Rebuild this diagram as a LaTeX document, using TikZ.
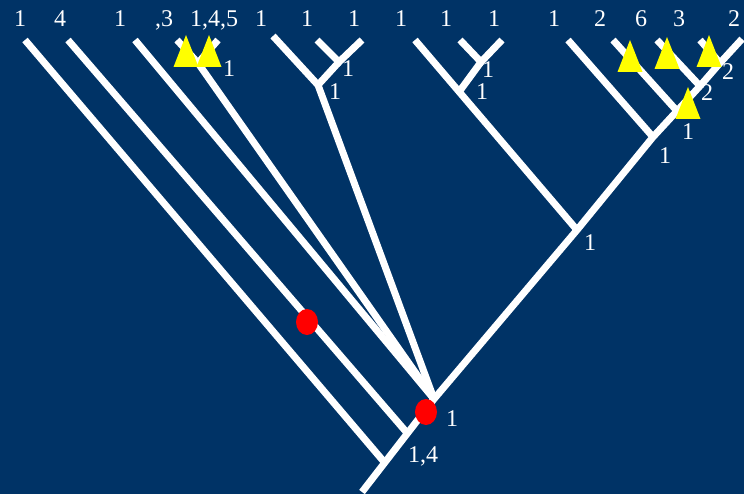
\documentclass[tikz,border=0pt]{standalone}
\usepackage{fontspec}
\setmainfont{Liberation Serif}
\definecolor{bg}{RGB}{0,51,102}
\definecolor{dotred}{RGB}{255,0,0}
\definecolor{triyellow}{RGB}{255,255,0}
\tikzset{
  branch/.style={draw=white,line width=7pt},
  lab/.style={text=white,inner sep=0pt,font=\fontsize{24}{28}\selectfont},
  toplab/.style={lab,anchor=base},
  reddot/.style={fill=dotred,ellipse,minimum width=22pt,minimum height=26pt,inner sep=0pt},
}
\usetikzlibrary{shapes.geometric}
\newcommand{\ytri}[2]{\fill[triyellow] (#1-12.5,#2+32) -- (#1,#2) -- (#1+12.5,#2+32) -- cycle;}
\begin{document}
\begin{tikzpicture}[x=1pt,y=-1pt]
\fill[bg] (0,0) rectangle (744,494);
\useasboundingbox (0,0) rectangle (744,494);
% junctions
\coordinate (R) at (362,492);
\coordinate (A) at (385,463);
\coordinate (B) at (408,434);
\coordinate (C) at (434,399);
\coordinate (D) at (577,230);
\coordinate (J1) at (653,137);
\coordinate (J2) at (677,111);
\coordinate (J3) at (700,86);
\coordinate (J4) at (720,63);
\coordinate (TR) at (742,39);
% leaf tips
\coordinate (L1) at (25,40);
\coordinate (L2) at (68,40);
\coordinate (L3) at (135,40);
\coordinate (L4a) at (177,40);
\coordinate (L4b) at (218,40);
\coordinate (V4) at (198,63);
\coordinate (g3a) at (273,36);
\coordinate (g3b) at (317,40);
\coordinate (g3c) at (362,40);
\coordinate (g3k) at (339,62);
\coordinate (g3j) at (318,85);
\coordinate (g4a) at (415,40);
\coordinate (g4b) at (460,40);
\coordinate (g4c) at (502,40);
\coordinate (g4k) at (481,62);
\coordinate (g4j) at (459,92);
\coordinate (g5a) at (568,40);
\coordinate (g5b) at (613,40);
\coordinate (g5c) at (657,40);
\coordinate (g5d) at (700,40);
% branches
\draw[branch] (R) -- (C) -- (D) -- (J1) -- (J2) -- (J3) -- (J4) -- (TR);
\draw[branch] (L1) -- (A);
\draw[branch] (L2) -- (B);
\draw[branch] (L3) -- (C);
\draw[branch] (L4a) -- (V4) -- (L4b);
\draw[branch] (V4) -- (C);
\draw[branch] (g3a) -- (g3j) -- (C);
\draw[branch] (g3b) -- (g3k) -- (g3c);
\draw[branch] (g3k) -- (g3j);
\draw[branch] (g4a) -- (D);
\draw[branch] (g4b) -- (g4k) -- (g4c);
\draw[branch] (g4k) -- (g4j);
\draw[branch] (g5a) -- (J1);
\draw[branch] (g5b) -- (J2);
\draw[branch] (g5c) -- (J3);
\draw[branch] (g5d) -- (J4);
% markers
\node[reddot] (d1) at (307,322) {};
\node[reddot] (d2) at (426,412) {};
\ytri{186}{35}
\ytri{209}{35}
\ytri{630}{40}
\ytri{667}{37}
\ytri{709}{35}
\ytri{688}{87}
% top labels
\node[toplab] (t1) at (20,27) {1};
\node[toplab] (t2) at (60,27) {4};
\node[toplab] (t3) at (120,27) {1};
\node[toplab] (t4) at (164,27) {,3};
\node[toplab] (t5) at (214,27) {1,4,5};
\node[toplab] (t6) at (261,27) {1};
\node[toplab] (t7) at (307,27) {1};
\node[toplab] (t8) at (354,27) {1};
\node[toplab] (t9) at (401,27) {1};
\node[toplab] (t10) at (446,27) {1};
\node[toplab] (t11) at (494,27) {1};
\node[toplab] (t12) at (554,27) {1};
\node[toplab] (t13) at (600,27) {2};
\node[toplab] (t14) at (641,27) {6};
\node[toplab] (t15) at (679,27) {3};
\node[toplab] (t16) at (734,27) {2};
% inner labels
\node[lab] (n1) at (229,69) {1};
\node[lab] (n2) at (348,69) {1};
\node[lab] (n3) at (335,92) {1};
\node[lab] (n4) at (488,70) {1};
\node[lab] (n5) at (482,92) {1};
\node[lab] (n6) at (728,72) {2};
\node[lab] (n7) at (707,93) {2};
\node[lab] (n8) at (688,132) {1};
\node[lab] (n9) at (665,156) {1};
\node[lab] (n10) at (590,243) {1};
\node[lab] (n11) at (452,419) {1};
\node[lab,anchor=base] (n12) at (423,462) {1,4};
\end{tikzpicture}
\end{document}
